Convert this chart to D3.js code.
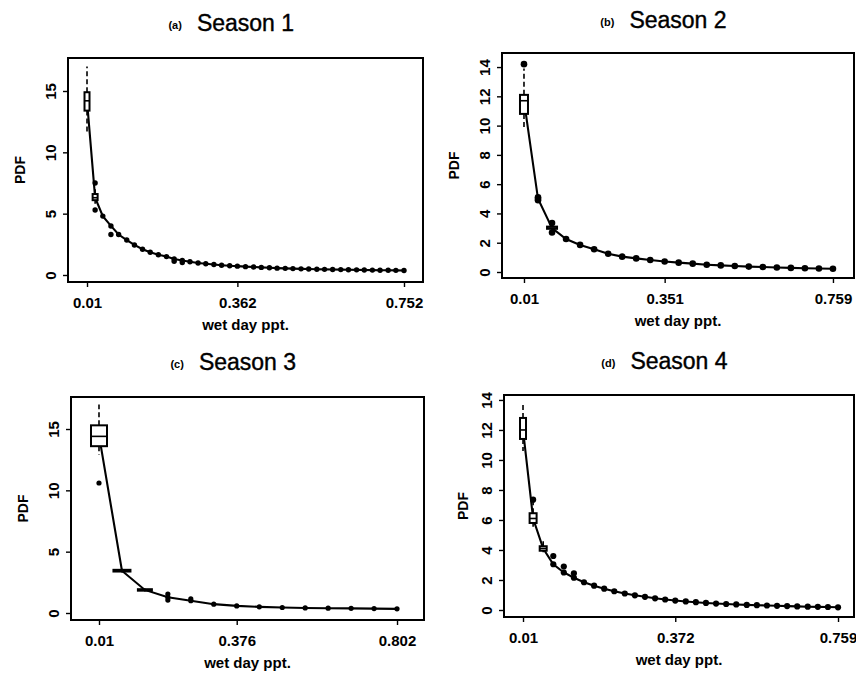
<!DOCTYPE html>
<html>
<head>
<meta charset="utf-8">
<script src="https://cdnjs.cloudflare.com/ajax/libs/d3/7.8.5/d3.min.js"></script>
<style>
  body { margin: 0; background: #fff; }
  svg { display: block; }
  text { font-family: "Liberation Sans", Arial, sans-serif; fill: #000; }
</style>
</head>
<body>
<div id="chart"></div>
<script>
// Season 1
const s1X = [0.010, 0.029, 0.047, 0.066, 0.084, 0.103, 0.121, 0.140, 0.158, 0.177, 0.196, 0.214, 0.233, 0.251,
  0.270, 0.288, 0.307, 0.325, 0.344, 0.362, 0.381, 0.400, 0.418, 0.437, 0.455, 0.474, 0.492, 0.511, 0.529,
  0.548, 0.566, 0.585, 0.604, 0.622, 0.641, 0.659, 0.678, 0.696, 0.715, 0.733, 0.752];
const s1Med = [14.2, 6.3, 4.8, 4.0, 3.3, 2.85, 2.45, 2.1, 1.85, 1.65, 1.5, 1.3, 1.18, 1.08, 0.98, 0.92, 0.86,
  0.8, 0.75, 0.72, 0.68, 0.65, 0.62, 0.59, 0.56, 0.54, 0.52, 0.5, 0.49, 0.47, 0.46, 0.45, 0.44, 0.43, 0.42,
  0.41, 0.4, 0.39, 0.39, 0.38, 0.37];
const s1Boxes = [
  { i: 0, q1: 13.4, q3: 14.9, med: 14.2, lo: 11.7, hi: 17.0, w: 5 },
  { i: 1, q1: 6.1, q3: 6.6, med: 6.3, lo: 5.8, hi: 7.0, w: 5 }
];
const s1Out = [[1, 7.5], [1, 5.3], [3, 3.3], [11, 1.12], [12, 1.02]];
const s1YTicks = [0, 5, 10, 15];
const s1XTicks = [0.01, 0.362, 0.752];

// Season 2
const s2X = [0.010, 0.044, 0.078, 0.112, 0.146, 0.180, 0.214, 0.248, 0.282, 0.316, 0.351, 0.385, 0.419, 0.453,
  0.487, 0.521, 0.555, 0.589, 0.623, 0.657, 0.691, 0.725, 0.759];
const s2Med = [11.7, 5.0, 3.0, 2.25, 1.85, 1.55, 1.25, 1.05, 0.93, 0.82, 0.72, 0.64, 0.57, 0.5, 0.45, 0.41,
  0.37, 0.34, 0.31, 0.28, 0.26, 0.24, 0.22];
const s2Boxes = [
  { i: 0, q1: 10.8, q3: 12.1, med: 11.7, lo: 9.9, hi: 13.9, w: 8 },
  { i: 2, q1: 2.95, q3: 3.1, med: 3.0, lo: 2.85, hi: 3.2, w: 10 }
];
const s2Out = [[0, 14.2], [1, 4.9], [1, 5.1], [2, 3.35], [2, 2.7]];
const s2YTicks = [0, 2, 4, 6, 8, 10, 12, 14];
const s2XTicks = [0.01, 0.351, 0.759];

// Season 3
const s3X = [0.010, 0.071, 0.132, 0.193, 0.254, 0.315, 0.376, 0.436, 0.497, 0.558, 0.619, 0.680, 0.741, 0.802];
const s3Med = [14.5, 3.45, 1.88, 1.28, 1.0, 0.72, 0.58, 0.5, 0.45, 0.41, 0.39, 0.38, 0.36, 0.34];
const s3Boxes = [
  { i: 0, q1: 13.6, q3: 15.3, med: 14.4, lo: 12.9, hi: 17.0, w: 16 },
  { i: 1, q1: 3.38, q3: 3.52, med: 3.45, lo: 3.3, hi: 3.6, w: 17 },
  { i: 2, q1: 1.82, q3: 1.94, med: 1.88, lo: 1.75, hi: 2.0, w: 14 }
];
const s3Out = [[0, 10.6], [3, 1.55], [3, 1.05], [4, 1.15]];
const s3YTicks = [0, 5, 10, 15];
const s3XTicks = [0.01, 0.376, 0.802];

// Season 4
const s4X = [0.010, 0.034, 0.058, 0.082, 0.107, 0.131, 0.155, 0.179, 0.203, 0.227, 0.252, 0.276, 0.300, 0.324,
  0.348, 0.372, 0.397, 0.421, 0.445, 0.469, 0.493, 0.517, 0.542, 0.566, 0.590, 0.614, 0.638, 0.662, 0.687,
  0.711, 0.735, 0.759];
const s4Med = [12.0, 6.1, 4.1, 3.05, 2.5, 2.15, 1.85, 1.62, 1.42, 1.25, 1.1, 0.98, 0.88, 0.78, 0.7, 0.63, 0.57,
  0.52, 0.47, 0.43, 0.4, 0.37, 0.34, 0.32, 0.3, 0.28, 0.26, 0.24, 0.22, 0.21, 0.2, 0.18];
const s4Boxes = [
  { i: 0, q1: 11.4, q3: 12.8, med: 12.0, lo: 10.6, hi: 13.8, w: 6 },
  { i: 1, q1: 5.8, q3: 6.45, med: 6.1, lo: 5.55, hi: 7.2, w: 7 },
  { i: 2, q1: 3.95, q3: 4.25, med: 4.1, lo: 3.85, hi: 4.6, w: 7 }
];
const s4Out = [[1, 7.35], [3, 3.6], [4, 2.9], [5, 2.45]];
const s4YTicks = [0, 2, 4, 6, 8, 10, 12, 14];
const s4XTicks = [0.01, 0.372, 0.759];

const panels = [
  { tag: '(a)', title: 'Season 1', x: s1X, med: s1Med, boxes: s1Boxes, out: s1Out, yTicks: s1YTicks, xTicks: s1XTicks,
    left: 68, right: 423, top: 58, bottom: 282, xDom: [-0.0345, 0.7965], yDom: [-0.571, 17.69], titleY: 31, ylabOff: 43, r: 2.7 },
  { tag: '(b)', title: 'Season 2', x: s2X, med: s2Med, boxes: s2Boxes, out: s2Out, yTicks: s2YTicks, xTicks: s2XTicks,
    left: 502, right: 854, top: 53, bottom: 278, xDom: [-0.0433, 0.81], yDom: [-0.41, 14.96], titleY: 28, ylabOff: 43, r: 3.3 },
  { tag: '(c)', title: 'Season 3', x: s3X, med: s3Med, boxes: s3Boxes, out: s3Out, yTicks: s3YTicks, xTicks: s3XTicks,
    left: 71, right: 424, top: 397, bottom: 620, xDom: [-0.0644, 0.8737], yDom: [-0.571, 17.61], titleY: 370, ylabOff: 43, r: 2.6 },
  { tag: '(d)', title: 'Season 4', x: s4X, med: s4Med, boxes: s4Boxes, out: s4Out, yTicks: s4YTicks, xTicks: s4XTicks,
    left: 504, right: 854, top: 395, bottom: 617, xDom: [-0.0352, 0.797], yDom: [-0.467, 14.33], titleY: 369, ylabOff: 36, r: 3.1 }
];

const svg = d3.select('#chart').append('svg')
  .attr('width', 856)
  .attr('height', 675);

panels.forEach(p => {
  const x = d3.scaleLinear().domain(p.xDom).range([p.left, p.right]);
  const y = d3.scaleLinear().domain(p.yDom).range([p.bottom, p.top]);
  const g = svg.append('g');

  // title, with the small panel tag on its left
  const cx = (p.left + p.right) / 2;
  const title = g.append('text')
    .attr('x', cx).attr('y', p.titleY)
    .attr('text-anchor', 'middle')
    .style('font-size', '23px')
    .style('stroke', '#000').style('stroke-width', 0.4)
    .text(p.title);
  const tw = title.node().getComputedTextLength();
  g.append('text')
    .attr('x', cx - tw / 2 - 15).attr('y', p.titleY - 2)
    .attr('text-anchor', 'end')
    .style('font-size', '11px').style('font-weight', 'bold')
    .text(p.tag);

  // y axis, labels turned like R does
  const ya = g.append('g')
    .attr('transform', `translate(${p.left},0)`)
    .call(d3.axisLeft(y).tickValues(p.yTicks).tickSize(5).tickFormat(d3.format('d')));
  ya.select('.domain').remove();
  ya.selectAll('line').attr('stroke', '#000').attr('stroke-width', 1.4);
  ya.selectAll('text')
    .attr('transform', 'rotate(-90)')
    .attr('x', 0).attr('y', -12).attr('dy', 0)
    .attr('text-anchor', 'middle')
    .style('font-size', '15px').style('font-weight', 'bold')
    .style('font-family', '"Liberation Sans", Arial, sans-serif');

  // x axis
  const xa = g.append('g')
    .attr('transform', `translate(0,${p.bottom})`)
    .call(d3.axisBottom(x).tickValues(p.xTicks).tickSize(5).tickFormat(d => String(d)));
  xa.select('.domain').remove();
  xa.selectAll('line').attr('stroke', '#000').attr('stroke-width', 1.4);
  xa.selectAll('text')
    .attr('y', 26).attr('dy', 0)
    .style('font-size', '15px').style('font-weight', 'bold')
    .style('font-family', '"Liberation Sans", Arial, sans-serif');

  g.append('text')
    .attr('x', cx).attr('y', p.bottom + 48)
    .attr('text-anchor', 'middle')
    .style('font-size', '15px').style('font-weight', 'bold')
    .text('wet day ppt.');

  g.append('text')
    .attr('transform', `translate(${p.left - p.ylabOff},${(p.top + p.bottom) / 2}) rotate(-90)`)
    .attr('text-anchor', 'middle')
    .style('font-size', '14px').style('font-weight', 'bold')
    .text('PDF');

  // fitted curve through the medians
  g.append('path')
    .datum(p.med)
    .attr('fill', 'none')
    .attr('stroke', '#000')
    .attr('stroke-width', 2.1)
    .attr('d', d3.line().x((d, i) => x(p.x[i])).y(d => y(d)));

  // collapsed boxes show as dots
  const boxIdx = p.boxes.map(b => b.i);
  g.append('g')
    .selectAll('circle')
    .data(p.med.map((d, i) => ({ v: d, i })).filter(d => !boxIdx.includes(d.i)))
    .enter().append('circle')
    .attr('cx', d => x(p.x[d.i]))
    .attr('cy', d => y(d.v))
    .attr('r', p.r)
    .attr('fill', '#000');

  // boxplots
  const bg = g.append('g')
    .selectAll('g')
    .data(p.boxes)
    .enter().append('g');
  bg.append('line')
    .attr('x1', d => x(p.x[d.i])).attr('x2', d => x(p.x[d.i]))
    .attr('y1', d => y(d.q3)).attr('y2', d => y(d.hi))
    .attr('stroke', '#000').attr('stroke-width', 1.6).attr('stroke-dasharray', '5,3');
  bg.append('line')
    .attr('x1', d => x(p.x[d.i])).attr('x2', d => x(p.x[d.i]))
    .attr('y1', d => y(d.q1)).attr('y2', d => y(d.lo))
    .attr('stroke', '#000').attr('stroke-width', 1.6).attr('stroke-dasharray', '5,3');
  bg.append('rect')
    .attr('x', d => x(p.x[d.i]) - d.w / 2)
    .attr('width', d => d.w)
    .attr('y', d => y(d.q3))
    .attr('height', d => y(d.q1) - y(d.q3))
    .attr('fill', '#fff')
    .attr('stroke', '#000').attr('stroke-width', 2);
  bg.append('line')
    .attr('x1', d => x(p.x[d.i]) - d.w / 2).attr('x2', d => x(p.x[d.i]) + d.w / 2)
    .attr('y1', d => y(d.med)).attr('y2', d => y(d.med))
    .attr('stroke', '#000').attr('stroke-width', 1.6);

  // outlying points
  g.append('g')
    .selectAll('circle')
    .data(p.out)
    .enter().append('circle')
    .attr('cx', d => x(p.x[d[0]]))
    .attr('cy', d => y(d[1]))
    .attr('r', p.r)
    .attr('fill', '#000');

  // frame
  g.append('rect')
    .attr('x', p.left).attr('y', p.top)
    .attr('width', p.right - p.left).attr('height', p.bottom - p.top)
    .attr('fill', 'none')
    .attr('stroke', '#000').attr('stroke-width', 2);
});
</script>
</body>
</html>
